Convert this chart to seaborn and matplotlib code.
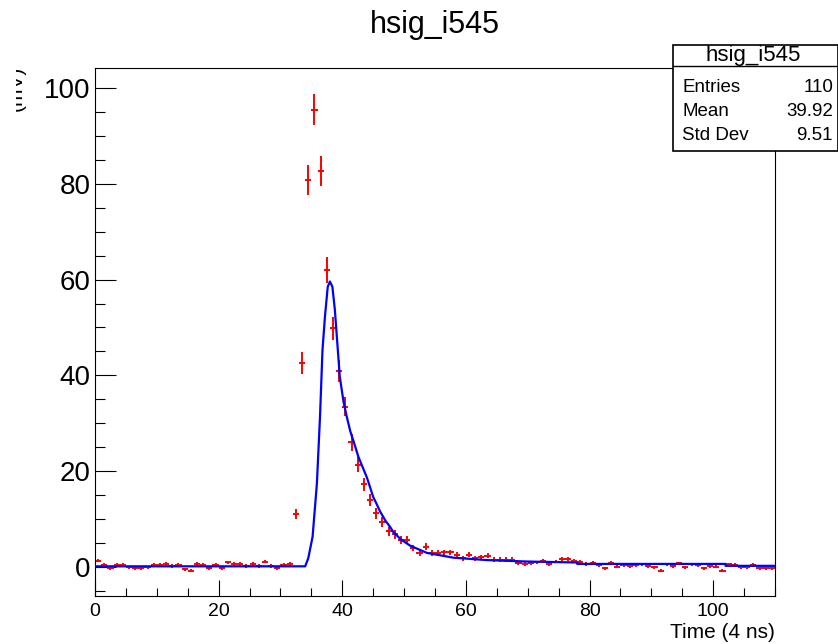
import numpy as np
import pandas as pd
import matplotlib
matplotlib.use("Agg")
import matplotlib.pyplot as plt
import seaborn as sns
from matplotlib.patches import Rectangle
from matplotlib.transforms import Bbox, TransformedBbox
from matplotlib.ticker import MultipleLocator

# histogram contents, one value per bin (bins 0..109, width 1)
bin_values = [
    1.3, 0.4, -0.3, 0.4, 0.4, -0.1, -0.3, -0.3, -0.1, 0.4,
    0.4, 0.6, 0.2, 0.4, -0.5, -0.8, 0.6, 0.4, -0.3, 0.4,
    -0.3, 0.9, 0.6, 0.6, 0.2, 0.6, 0.2, 1.1, 0.2, -0.3,
    0.4, 0.6, 11.0, 42.5, 80.8, 95.5, 82.7, 62.0, 49.8, 40.9,
    33.4, 26.0, 21.3, 17.2, 13.9, 11.2, 9.4, 7.4, 6.8, 5.6,
    5.6, 3.9, 2.9, 4.2, 2.9, 2.9, 3.0, 3.0, 2.5, 1.8,
    2.5, 1.8, 2.0, 2.3, 1.5, 1.5, 1.5, 1.5, 0.8, 0.6,
    0.7, 0.9, 1.3, 0.6, 1.1, 1.6, 1.6, 1.3, 1.0, 0.6,
    0.8, 0.35, -0.35, 0.8, 0.0, 0.4, 0.1, 0.35, 0.5, 0.1,
    -0.1, -0.8, 0.5, 0.1, 0.7, -0.1, 0.5, 0.35, -0.35, 0.1,
    0.0, -0.8, 0.5, 0.35, -0.1, -0.1, 0.35, -0.35, -0.35, -0.35,
]

bin_errors = (
    [0.35] * 32
    + [1.0, 2.3, 3.1, 3.3, 3.1, 2.7, 2.4, 2.2, 2.0, 1.8,
       1.6, 1.45, 1.3, 1.15, 1.05, 0.95, 0.9, 0.8, 0.8, 0.7,
       0.6, 0.7, 0.6, 0.6, 0.6, 0.6]
    + [0.5] * 10
    + [0.35] * 42
)

# fit function
fit_x = [0.0, 34.0, 34.5, 35.2, 35.9, 36.4, 36.8, 37.2, 37.65, 38.0,
         38.4, 38.8, 39.2, 39.6, 40.2, 40.7, 41.3, 42.0, 42.6, 43.3,
         44.0, 45.0, 45.6, 46.1, 47.0, 47.7, 48.3, 49.5, 51.0, 53.7,
         58.0, 63.4, 69.9, 78.0, 78.0, 102.0, 102.0, 110.0]
fit_y = [0.1, 0.1, 1.8, 6.3, 17.5, 31.4, 45.3, 52.3, 58.5, 59.6,
         58.5, 53.7, 46.7, 39.7, 34.5, 31.5, 28.3, 25.5, 23.0, 20.8,
         18.6, 14.6, 13.0, 11.6, 9.6, 8.4, 7.2, 5.7, 4.4, 2.9,
         1.9, 1.4, 1.1, 0.9, 0.6, 0.6, 0.2, 0.2]

stats_rows = [("Entries", "110"), ("Mean", "39.92"), ("Std Dev", "9.51")]

hist = pd.DataFrame({"time": np.arange(len(bin_values)) + 0.5,
                     "value": bin_values, "err": bin_errors})
fit = pd.DataFrame({"time": fit_x, "value": fit_y})

sns.set_style("ticks")
plt.rcParams["font.family"] = ["Liberation Sans", "DejaVu Sans"]
plt.rcParams["text.color"] = "black"
plt.rcParams["axes.labelcolor"] = "black"
plt.rcParams["xtick.color"] = "black"
plt.rcParams["ytick.color"] = "black"
plt.rcParams["axes.edgecolor"] = "black"

W, H = 838, 644
fig = plt.figure(figsize=(W / 100, H / 100), dpi=100)
ax = fig.add_axes([95 / W, 1 - 596 / H, 680 / W, 528 / H])

ax.errorbar(hist["time"], hist["value"], xerr=0.5, yerr=hist["err"],
            fmt="none", ecolor="#ff0000", elinewidth=1.4, zorder=2)
sns.lineplot(data=fit, x="time", y="value", estimator=None, sort=False,
             color="#0000ff", linewidth=1.6, ax=ax, zorder=3)

ax.set_xlim(0, 110)
ax.set_ylim(-6.1, 104.2)
ax.xaxis.set_major_locator(MultipleLocator(20))
ax.xaxis.set_minor_locator(MultipleLocator(5))
ax.yaxis.set_major_locator(MultipleLocator(20))
ax.yaxis.set_minor_locator(MultipleLocator(5))
ax.tick_params(axis="both", which="both", direction="in", color="black",
               labelcolor="black", width=0.8, top=False, right=False)
ax.tick_params(axis="y", which="major", length=15, labelsize=20, pad=3)
ax.tick_params(axis="y", which="minor", length=7.5)
ax.tick_params(axis="x", which="major", length=11.5, labelsize=14, pad=5)
ax.tick_params(axis="x", which="minor", length=6)
for s in ax.spines.values():
    s.set_linewidth(0.8)
    s.set_color("black")
ax.set_ylabel("")
ax.set_xlabel("Time (4 ns)", loc="right", fontsize=15, labelpad=2,
              color="black")

fig.text(435 / W, 1 - 25 / H, "hsig_i545", ha="center", va="center",
         fontsize=22, color="black")

# y title, clipped at the canvas edge like the original
ylab = fig.text(26 / W, 1 - 66 / H, "(mV)", rotation=90, ha="right",
                va="top", fontsize=15, color="black")
ylab.set_clip_box(TransformedBbox(Bbox([[16 / W, 0], [1, 1]]),
                                  fig.transFigure))
ylab.set_clip_on(True)

# stats box
bx0, bx1 = 673 / W, 1.0
by0, by1 = 1 - 151 / H, 1 - 45 / H
fig.add_artist(Rectangle((bx0, by0), bx1 - bx0, by1 - by0,
                         transform=fig.transFigure, facecolor="white",
                         edgecolor="black", linewidth=1.2, zorder=10))
fig.add_artist(plt.Line2D([bx0, bx1], [1 - 66 / H] * 2,
                          transform=fig.transFigure, color="black",
                          linewidth=1.0, zorder=11))
fig.text((bx0 + bx1) / 2 - 2 / W, 1 - 56 / H, "hsig_i545", ha="center",
         va="center", fontsize=16, color="black", zorder=12)
for i, (label, val) in enumerate(stats_rows):
    yy = 1 - (87 + i * 24) / H
    fig.text(682 / W, yy, label, ha="left", va="center", fontsize=13.5,
             color="black", zorder=12)
    fig.text(833 / W, yy, val, ha="right", va="center", fontsize=13.5,
             color="black", zorder=12)

fig.savefig("out.png", dpi=100)
